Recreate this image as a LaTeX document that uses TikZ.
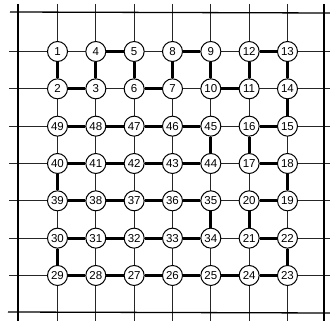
\documentclass[tikz,border=0pt]{standalone}
\usepackage{fontspec}
\setmainfont{Liberation Sans}
\begin{document}
\begin{tikzpicture}[x=1pt,y=-1pt,
  gridline/.style={line width=0.8pt,black!85},
  outerline/.style={line width=1.3pt,black},
  pathline/.style={line width=3pt,black,line cap=butt},
  vnode/.style={circle,draw,line width=1pt,fill=white,minimum size=20pt,inner sep=0pt,font=\fontsize{11.5}{11.5}\selectfont}]
\useasboundingbox (0,0) rectangle (330,321);
% background grid
\foreach \i in {0,...,6} {
  \draw[gridline] ({57.5+38.33*\i},4) -- ({57.5+38.33*\i},321);
  \draw[gridline] (9,{51.5+37.33*\i}) -- (330,{51.5+37.33*\i});
}
\draw[outerline] (18,4) -- (18,321);
\draw[outerline] (324,4) -- (324,321);
\draw[outerline] (10,12) -- (330,13);
\draw[outerline] (8,312) -- (330,313);
% nodes
\foreach \row [count=\j from 0] in {{1,4,5,8,9,12,13},{2,3,6,7,10,11,14},{49,48,47,46,45,16,15},{40,41,42,43,44,17,18},{39,38,37,36,35,20,19},{30,31,32,33,34,21,22},{29,28,27,26,25,24,23}} {
  \foreach \n [count=\i from 0] in \row {
    \node[vnode] (n\n) at ({57.5+38.33*\i},{51.5+37.33*\j}) {\n};
  }
}
% thick path
\draw[pathline] (n1) -- (n2) -- (n3) -- (n4) -- (n5) -- (n6) -- (n7) -- (n8) -- (n9) -- (n10)
  -- (n11) -- (n12) -- (n13) -- (n14) -- (n15) -- (n16) -- (n17) -- (n18) -- (n19) -- (n20)
  -- (n21) -- (n22) -- (n23) -- (n24) -- (n25) -- (n26) -- (n27) -- (n28) -- (n29) -- (n30)
  -- (n31) -- (n32) -- (n33) -- (n34) -- (n35) -- (n36) -- (n37) -- (n38) -- (n39) -- (n40)
  -- (n41) -- (n42) -- (n43) -- (n44) -- (n45) -- (n46) -- (n47) -- (n48) -- (n49);
\end{tikzpicture}
\end{document}
